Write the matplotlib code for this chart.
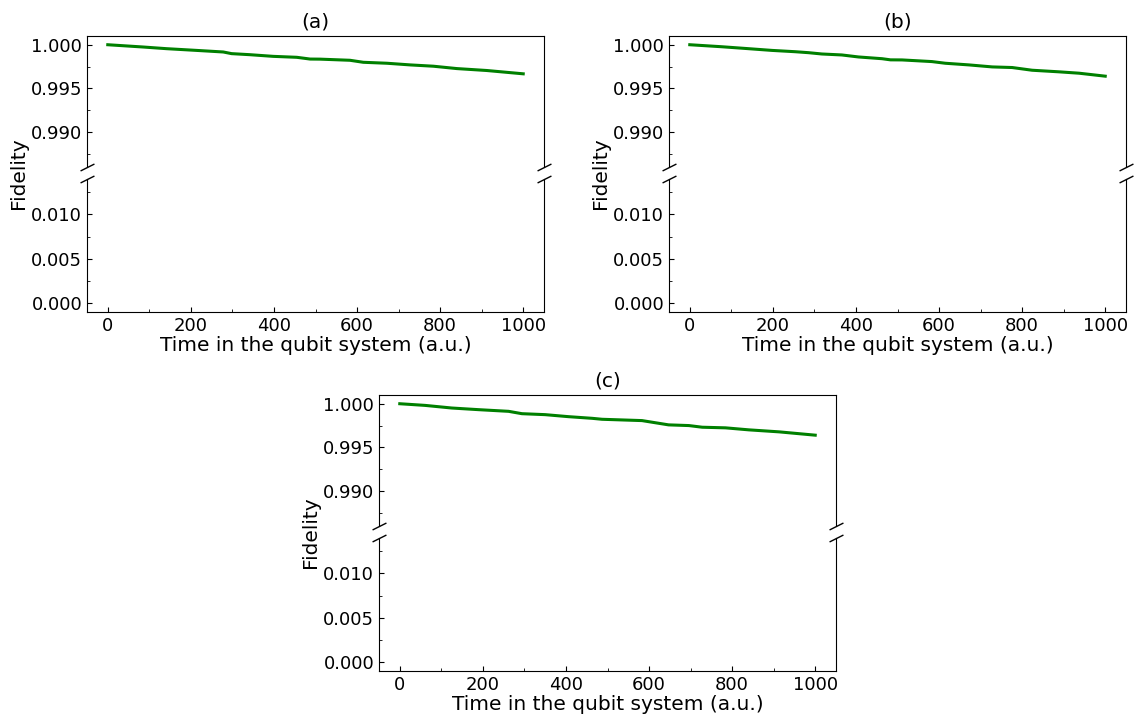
import matplotlib
matplotlib.use("Agg")
import matplotlib.pyplot as plt
from matplotlib.ticker import AutoMinorLocator

# fidelity traces read at irregular time samples (a.u.)
time_a = [0, 85, 141, 214, 278, 298, 342, 398, 455, 487, 511, 583, 615, 672, 728, 784, 840, 912, 1000]
fid_a = [1.00000, 0.99974, 0.99955, 0.99935, 0.99917, 0.99898, 0.99886, 0.99867, 0.99856, 0.99836,
         0.99835, 0.99822, 0.99799, 0.99788, 0.99769, 0.99754, 0.99727, 0.99705, 0.99667]

time_b = [0, 77, 141, 198, 254, 286, 318, 366, 406, 463, 483, 511, 583, 615, 672, 728, 776, 824, 888, 937, 1000]
fid_b = [1.00000, 0.99977, 0.99955, 0.99935, 0.99920, 0.99909, 0.99894, 0.99883, 0.99860, 0.99840,
         0.99827, 0.99826, 0.99807, 0.99788, 0.99769, 0.99746, 0.99739, 0.99708, 0.99690, 0.99674, 0.99640]

time_c = [0, 61, 125, 190, 262, 294, 350, 406, 463, 487, 583, 647, 696, 728, 784, 840, 913, 1000]
fid_c = [1.00000, 0.99981, 0.99951, 0.99932, 0.99913, 0.99886, 0.99875, 0.99852, 0.99833, 0.99822,
         0.99807, 0.99758, 0.99750, 0.99731, 0.99724, 0.99701, 0.99678, 0.99640]

panel_labels = ["(a)", "(b)", "(c)"]
top_lim = (0.986, 1.001)
bottom_lim = (-0.001, 0.014)

W, H = 1136, 719
fig = plt.figure(figsize=(W / 100, H / 100), dpi=100)


def rect(x0, x1, y0, y1):
    # pixel box -> figure fraction [left, bottom, width, height]
    return [x0 / W, 1 - y1 / H, (x1 - x0) / W, (y1 - y0) / H]


def broken_panel(x0, x1, ytop, ybreak1, ybreak2, ybot, t, f, label):
    ax1 = fig.add_axes(rect(x0, x1, ytop, ybreak1))
    ax2 = fig.add_axes(rect(x0, x1, ybreak2, ybot), sharex=ax1)
    for ax in (ax1, ax2):
        ax.plot(t, f, color="green", lw=2.2)
        ax.yaxis.set_minor_locator(AutoMinorLocator(2))
        ax.xaxis.set_minor_locator(AutoMinorLocator(2))
        ax.tick_params(which="both", direction="in", labelsize=13, right=False, top=False)
    ax1.set_ylim(*top_lim)
    ax2.set_ylim(*bottom_lim)
    ax1.set_yticks([0.990, 0.995, 1.000])
    ax2.set_yticks([0.000, 0.005, 0.010])
    ax1.spines["bottom"].set_visible(False)
    ax2.spines["top"].set_visible(False)
    ax1.tick_params(which="both", bottom=False, labelbottom=False)

    # slanted break marks on both spines
    d = .5
    kw = dict(marker=[(-1, -d), (1, d)], markersize=10, linestyle="none",
              color="k", mec="k", mew=1, clip_on=False)
    ax1.plot([0, 1], [0, 0], transform=ax1.transAxes, **kw)
    ax2.plot([0, 1], [1, 1], transform=ax2.transAxes, **kw)

    ax1.set_title(label, fontsize=14.5, pad=6)
    ax2.set_xlabel("Time in the qubit system (a.u.)", fontsize=14.5, labelpad=1)
    ymid = (ybreak1 + ybreak2) / 2
    fig.text((x0 - 68) / W, 1 - ymid / H, "Fidelity", rotation=90,
             ha="center", va="center", fontsize=14.5)
    return ax1, ax2


broken_panel(87, 544, 36, 167, 179, 312, time_a, fid_a, panel_labels[0])
broken_panel(669, 1126, 36, 167, 179, 312, time_b, fid_b, panel_labels[1])
broken_panel(379, 836, 395, 526, 538, 671, time_c, fid_c, panel_labels[2])

fig.savefig("out.png", dpi=100)
